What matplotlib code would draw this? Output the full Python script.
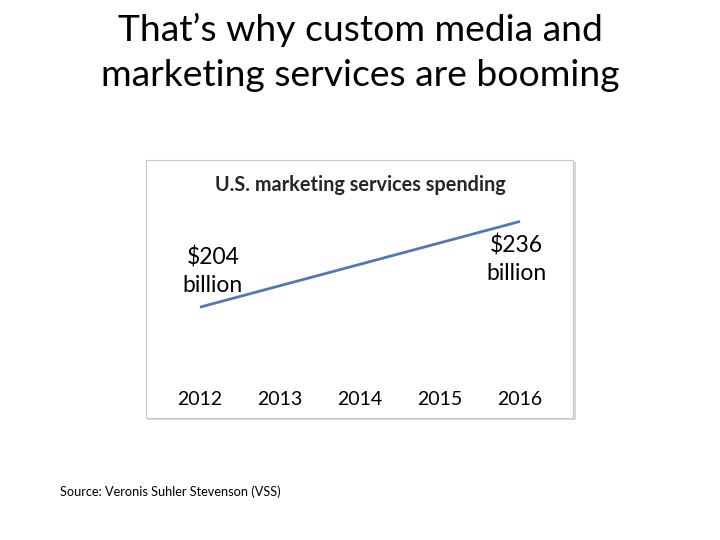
import matplotlib
matplotlib.use("Agg")
import matplotlib.pyplot as plt
from matplotlib.patches import Rectangle

years = [2012, 2013, 2014, 2015, 2016]
spending = [204, 212, 220, 228, 236]
tick_labels = ["2012", "2013", "2014", "2015", "2016"]
start_label = "$204\nbillion"
end_label = "$236\nbillion"

W, H = 720, 540
fig = plt.figure(figsize=(7.2, 5.4), dpi=100)
fig.patch.set_facecolor("white")
plt.rcParams['font.family'] = ['Lato', 'DejaVu Sans']

def fx(px):
    return px / W

def fy(py):
    return 1 - py / H

# Slide title
fig.text(fx(360), fy(30), "That\u2019s why custom media and", ha="center", va="center",
         fontsize=26.8, color="black")
fig.text(fx(360), fy(75), "marketing services are booming", ha="center", va="center",
         fontsize=26.8, color="black")

# Chart frame with shadow
fig.patches.append(Rectangle((fx(148), fy(420)), fx(574) - fx(146), fy(160) - fy(418),
                             transform=fig.transFigure, facecolor="#d8d8d8", edgecolor="none", zorder=0))
fig.patches.append(Rectangle((fx(146), fy(418)), fx(573) - fx(146), fy(160) - fy(418),
                             transform=fig.transFigure, facecolor="white", edgecolor="#c8c8c8",
                             linewidth=0.8, zorder=1))

# Axes
ax = fig.add_axes([fx(160), fy(380), fx(560) - fx(160), fy(200) - fy(380)])
ax.set_zorder(3)
ax.set_facecolor("none")
ax.plot(years, spending, color="#5279b0", linewidth=2.0, solid_capstyle="butt")
ax.set_xlim(2011.5, 2016.5)
ax.set_ylim(176.8, 244.0)
ax.set_yticks([])
ax.set_xticks(years)
ax.set_xticklabels(tick_labels, fontsize=14)
ax.tick_params(axis="x", length=0, pad=8)
for s in ax.spines.values():
    s.set_visible(False)

# Data labels
ax.annotate(start_label, xy=(years[0], spending[0]), xytext=(13, 36), textcoords="offset pixels",
            ha="center", va="center", fontsize=16.5, linespacing=1.4)
ax.annotate(end_label, xy=(years[-1], spending[-1]), xytext=(-4, -38), textcoords="offset pixels",
            ha="center", va="center", fontsize=16.5, linespacing=1.4)

# Chart title
t = fig.text(fx(360), fy(185), "U.S. marketing services spending", ha="center", va="center",
             fontsize=14.3, fontweight="bold", color="#262626")
t.set_zorder(4)

# Source
fig.text(fx(60), fy(492), "Source: Veronis Suhler Stevenson (VSS)", ha="left", va="center",
         fontsize=9.2, color="black")

fig.savefig("out.png", dpi=100)
